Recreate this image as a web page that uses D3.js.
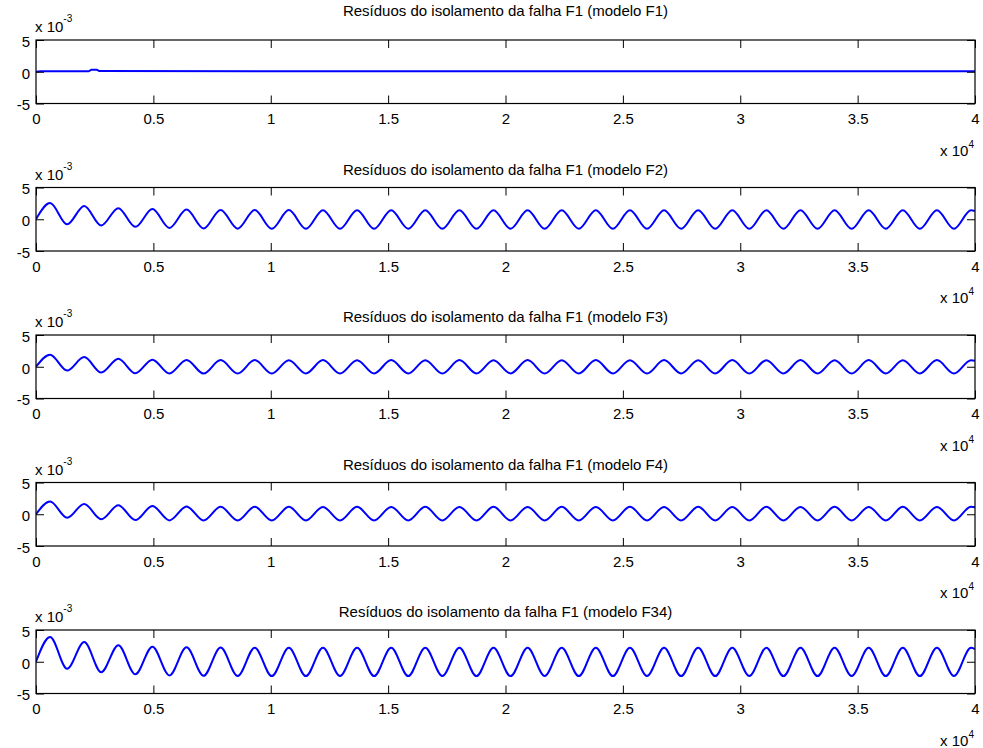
<!DOCTYPE html>
<html>
<head>
<meta charset="utf-8">
<script src="https://cdn.jsdelivr.net/npm/d3@7"></script>
<style>
  html, body { margin: 0; padding: 0; background: #ffffff; }
  svg { display: block; font-family: "Liberation Sans", Arial, Helvetica, sans-serif; }
</style>
</head>
<body>
<svg id="chart" width="983" height="748"></svg>
<script>
// Residuals of fault F1 isolation, one panel per model (values in units of 1e-3)

const panelTitles = [
  "Resíduos do isolamento da falha F1 (modelo F1)",
  "Resíduos do isolamento da falha F1 (modelo F2)",
  "Resíduos do isolamento da falha F1 (modelo F3)",
  "Resíduos do isolamento da falha F1 (modelo F4)",
  "Resíduos do isolamento da falha F1 (modelo F34)"
];

// Model F1: residual stays close to zero
const timesF1 = [0, 200, 2250, 2350, 2600, 2700, 10000, 20000, 30000, 40000];
const residF1 = [0, 0.08, 0.08, 0.30, 0.30, 0.10, 0.08, 0.09, 0.08, 0.08];

// Sample instants of the oscillating residuals: start, alternating crests/troughs, end
const sampleTimes = [
  0,
  600, 1326, 2053, 2779, 3506, 4232, 4959, 5685, 6412, 7138,
  7865, 8591, 9318, 10044, 10771, 11497, 12224, 12950, 13677, 14403,
  15130, 15856, 16583, 17309, 18036, 18762, 19489, 20215, 20942, 21668,
  22395, 23121, 23848, 24574, 25301, 26027, 26754, 27480, 28207, 28933,
  29660, 30386, 31113, 31839, 32566, 33292, 34019, 34745, 35472, 36198,
  36925, 37651, 38378, 39104, 39831,
  40000
];

const residF2 = [
  0,
  2.55, -0.80, 2.10, -0.98, 1.75, -1.20, 1.62, -1.36, 1.52, -1.45,
  1.47, -1.48, 1.45, -1.50, 1.44, -1.50, 1.43, -1.49, 1.43, -1.50,
  1.42, -1.49, 1.43, -1.50, 1.42, -1.50, 1.43, -1.49, 1.42, -1.50,
  1.42, -1.49, 1.43, -1.50, 1.42, -1.50, 1.42, -1.49, 1.43, -1.50,
  1.42, -1.50, 1.42, -1.49, 1.43, -1.50, 1.42, -1.50, 1.42, -1.49,
  1.43, -1.50, 1.42, -1.50, 1.42,
  1.30
];

const residF3 = [
  0,
  1.90, -0.60, 1.52, -0.92, 1.25, -1.03, 1.12, -1.06, 1.07, -1.07,
  1.05, -1.06, 1.05, -1.06, 1.04, -1.05, 1.05, -1.06, 1.04, -1.05,
  1.05, -1.05, 1.04, -1.06, 1.05, -1.05, 1.04, -1.05, 1.05, -1.06,
  1.04, -1.05, 1.05, -1.05, 1.04, -1.06, 1.05, -1.05, 1.04, -1.05,
  1.05, -1.06, 1.04, -1.05, 1.05, -1.05, 1.04, -1.06, 1.05, -1.05,
  1.04, -1.05, 1.05, -1.06, 1.04,
  0.95
];

const residF4 = [
  0,
  2.00, -0.55, 1.62, -0.78, 1.40, -0.92, 1.30, -0.97, 1.22, -0.98,
  1.18, -0.98, 1.17, -0.99, 1.17, -0.98, 1.16, -0.98, 1.17, -0.99,
  1.16, -0.98, 1.17, -0.98, 1.16, -0.99, 1.17, -0.98, 1.16, -0.98,
  1.17, -0.99, 1.16, -0.98, 1.17, -0.98, 1.16, -0.99, 1.17, -0.98,
  1.16, -0.98, 1.17, -0.99, 1.16, -0.98, 1.17, -0.98, 1.16, -0.99,
  1.17, -0.98, 1.16, -0.98, 1.17,
  1.10
];

const residF34 = [
  0,
  3.90, -1.10, 3.10, -1.65, 2.60, -1.98, 2.38, -2.15, 2.28, -2.22,
  2.24, -2.25, 2.22, -2.26, 2.21, -2.26, 2.21, -2.25, 2.20, -2.26,
  2.21, -2.26, 2.20, -2.25, 2.21, -2.26, 2.20, -2.26, 2.21, -2.25,
  2.20, -2.26, 2.21, -2.26, 2.20, -2.25, 2.21, -2.26, 2.20, -2.26,
  2.21, -2.25, 2.20, -2.26, 2.21, -2.26, 2.20, -2.25, 2.21, -2.26,
  2.20, -2.26, 2.21, -2.25, 2.20,
  2.00
];

const xTicks = [0, 5000, 10000, 15000, 20000, 25000, 30000, 35000, 40000];
const xTickLabels = ["0", "0.5", "1", "1.5", "2", "2.5", "3", "3.5", "4"];
const yTicks = [-5, 0, 5];
const yTickLabels = ["-5", "0", "5"];

const panels = [
  { title: panelTitles[0], t: timesF1, v: residF1, smooth: false },
  { title: panelTitles[1], t: sampleTimes, v: residF2, smooth: true },
  { title: panelTitles[2], t: sampleTimes, v: residF3, smooth: true },
  { title: panelTitles[3], t: sampleTimes, v: residF4, smooth: true },
  { title: panelTitles[4], t: sampleTimes, v: residF34, smooth: true }
];

// Layout
const axLeft = 36, axRight = 975;
const axTops = [40, 187.5, 335, 482.5, 630];
const axHeight = 63.5;
const tickLen = 8;
const fontSize = 15;
const supSize = 10;

const svg = d3.select("#chart");
const x = d3.scaleLinear().domain([0, 40000]).range([axLeft, axRight]);

panels.forEach((p, i) => {
  const top = axTops[i];
  const bottom = top + axHeight;
  const y = d3.scaleLinear().domain([-5, 5]).range([bottom, top]);
  const g = svg.append("g");

  const clipId = "clip" + i;
  g.append("clipPath").attr("id", clipId)
    .append("rect").attr("x", axLeft).attr("y", top)
    .attr("width", axRight - axLeft).attr("height", axHeight);

  // residual trace
  const line = d3.line()
    .x((d, k) => x(p.t[k]))
    .y(d => y(d))
    .curve(p.smooth ? d3.curveMonotoneX : d3.curveLinear);
  g.append("path")
    .attr("clip-path", `url(#${clipId})`)
    .attr("d", line(p.v))
    .attr("fill", "none")
    .attr("stroke", "#0000ff")
    .attr("stroke-width", 2)
    .attr("stroke-linejoin", "round");

  // inward ticks on all four sides, as in MATLAB boxed axes
  const axisBottom = d3.axisBottom(x).tickValues(xTicks)
    .tickFormat((d, k) => xTickLabels[k]).tickSizeInner(-tickLen).tickSizeOuter(0).tickPadding(10);
  const axisTop = d3.axisTop(x).tickValues(xTicks)
    .tickFormat("").tickSizeInner(-tickLen).tickSizeOuter(0);
  const axisLeft = d3.axisLeft(y).tickValues(yTicks)
    .tickFormat((d, k) => yTickLabels[k]).tickSizeInner(-tickLen).tickSizeOuter(0).tickPadding(6);
  const axisRight = d3.axisRight(y).tickValues(yTicks)
    .tickFormat("").tickSizeInner(-tickLen).tickSizeOuter(0);

  const gb = g.append("g").attr("transform", `translate(0,${bottom})`).call(axisBottom);
  const gt = g.append("g").attr("transform", `translate(0,${top})`).call(axisTop);
  const gl = g.append("g").attr("transform", `translate(${axLeft},0)`).call(axisLeft);
  const gr = g.append("g").attr("transform", `translate(${axRight},0)`).call(axisRight);

  [gb, gt, gl, gr].forEach(a => {
    a.select(".domain").remove();
    a.selectAll(".tick line").attr("stroke", "#000").attr("stroke-width", 1);
    a.selectAll(".tick text")
      .attr("fill", "#000")
      .style("font-size", fontSize + "px")
      .style("font-family", '"Liberation Sans", Arial, sans-serif');
  });
  gb.selectAll(".tick text").attr("dy", "0.71em");
  gl.selectAll(".tick text").attr("dy", "0.42em");

  // box
  g.append("rect")
    .attr("x", axLeft).attr("y", top)
    .attr("width", axRight - axLeft).attr("height", axHeight)
    .attr("fill", "none").attr("stroke", "#000").attr("stroke-width", 1.2);

  // title
  const titleBase = i === 0 ? 15.5 : top - 13;
  g.append("text")
    .attr("x", (axLeft + axRight) / 2).attr("y", titleBase)
    .attr("text-anchor", "middle")
    .style("font-size", fontSize + "px")
    .text(p.title);

  // y exponent label
  const yExp = g.append("text")
    .attr("x", axLeft - 1).attr("y", top - 8)
    .style("font-size", fontSize + "px");
  yExp.append("tspan").text("x 10");
  yExp.append("tspan").attr("dy", -10).style("font-size", supSize + "px").text("-3");

  // x exponent label
  const xExp = g.append("text")
    .attr("x", axRight - 1).attr("y", bottom + 52)
    .attr("text-anchor", "end")
    .style("font-size", fontSize + "px");
  xExp.append("tspan").text("x 10");
  xExp.append("tspan").attr("dy", -8).style("font-size", supSize + "px").text("4");
});
</script>
</body>
</html>
